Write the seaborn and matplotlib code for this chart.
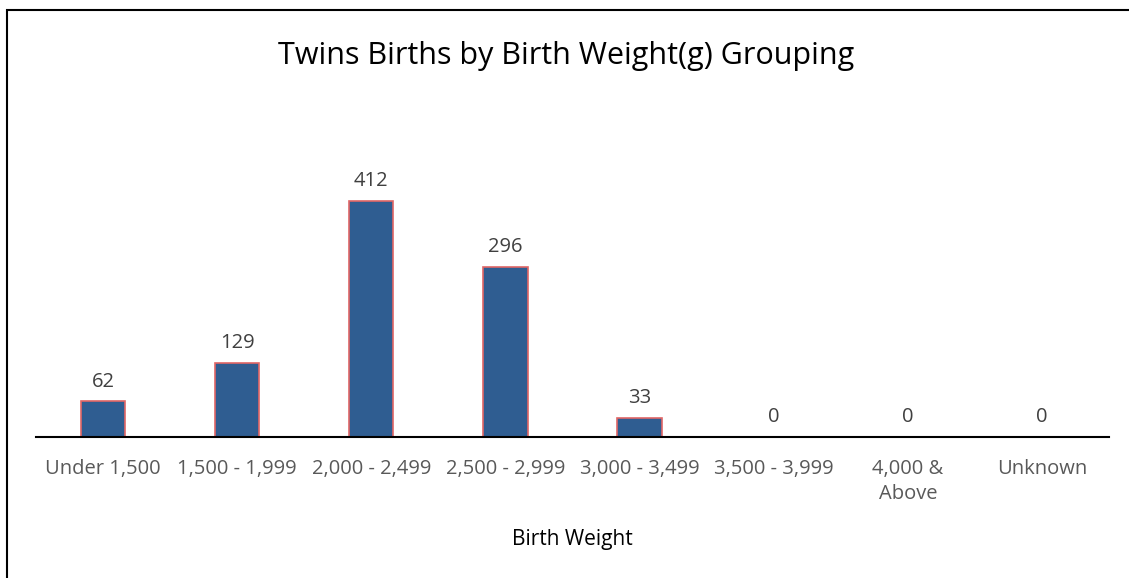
import matplotlib
matplotlib.use("Agg")
import matplotlib.pyplot as plt
import matplotlib.patches as mpatches
import seaborn as sns
import pandas as pd

categories = ["Under 1,500", "1,500 - 1,999", "2,000 - 2,499", "2,500 - 2,999",
              "3,000 - 3,499", "3,500 - 3,999", "4,000 &\nAbove", "Unknown"]
births = [62, 129, 412, 296, 33, 0, 0, 0]

df = pd.DataFrame({"category": categories, "births": births})

sns.set_theme(style="white")
plt.rcParams['font.family'] = ['Open Sans', 'DejaVu Sans']

fig = plt.figure(figsize=(11.29, 5.78), dpi=100)
ax = fig.add_axes([36/1129, 1-437/578, (1109-36)/1129, (437-150)/578])

sns.barplot(data=df, x="category", y="births", ax=ax, color="#2F5D91",
            width=0.33, edgecolor="#E06666", linewidth=1.2, saturation=1)

ax.set_xlim(-0.5, 7.5)
ax.set_ylim(0, 500)
for c in ax.containers:
    ax.bar_label(c, labels=[str(v) for v in births], padding=7, fontsize=14.5, color="#404040")

for s in ["top", "right", "left"]:
    ax.spines[s].set_visible(False)
ax.spines["bottom"].set_color("black")
ax.spines["bottom"].set_linewidth(1.5)
ax.set_yticks([])
ax.set_ylabel("")
ax.tick_params(axis="x", length=0, pad=16, labelsize=14.5, labelcolor="#595959")
for t in ax.get_xticklabels():
    t.set_linespacing(1.35)
ax.set_xlabel("Birth Weight", fontsize=15, color="black", labelpad=18)

fig.text(566/1129, 1-56/578, "Twins Births by Birth Weight(g) Grouping",
         ha="center", va="center", fontsize=22, color="black")

rect = mpatches.Rectangle((6.5/1129, -0.1), 1.2, 1-9.5/578 + 0.1, transform=fig.transFigure,
                          fill=False, edgecolor="black", linewidth=1.5, clip_on=False)
fig.patches.append(rect)

fig.savefig("out.png", dpi=100, facecolor="white")
